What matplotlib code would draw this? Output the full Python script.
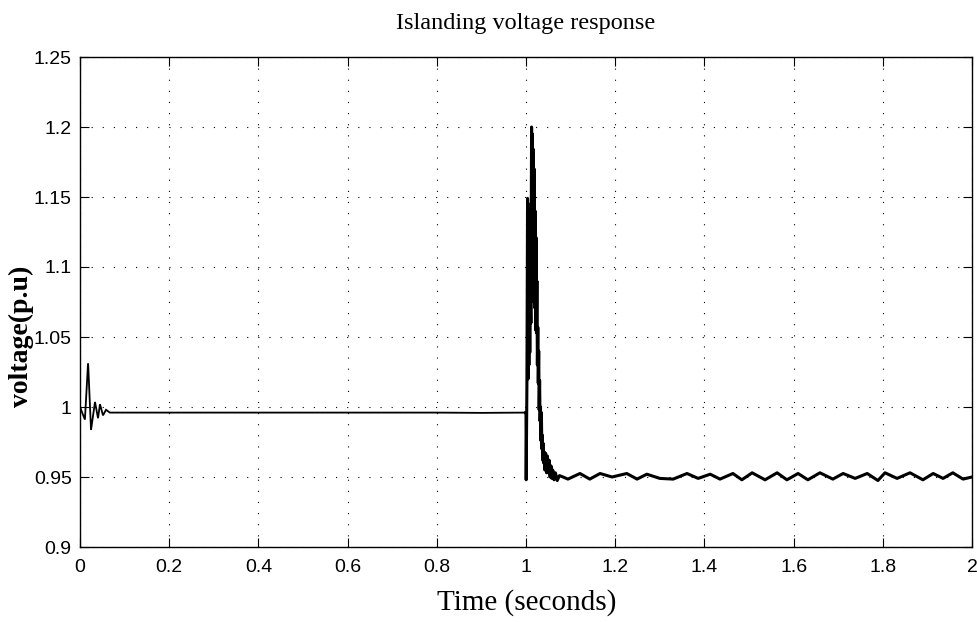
import matplotlib
matplotlib.use("Agg")
import matplotlib.pyplot as plt

# Simulated PCC voltage (p.u.) during islanding, sampled from the recorded waveform
# Start-up transient and steady grid-connected operation
t_grid = [0.0, 0.011, 0.018, 0.0185, 0.0247, 0.0336, 0.0404, 0.0448, 0.0516,
          0.0583, 0.067, 0.2, 0.4, 0.6, 0.8, 0.9, 0.9995]
v_grid = [1.000, 0.991, 1.031, 1.029, 0.9836, 1.0036, 0.992, 1.002, 0.994,
          0.998, 0.996, 0.996, 0.996, 0.996, 0.996, 0.9958, 0.996]

# Islanding event at t = 1 s and settling to the new operating point
t_island = [0.9995, 1.0000, 1.0004, 1.0020, 1.0035, 1.0045, 1.0055, 1.0065,
            1.0075, 1.0085, 1.0095, 1.0110, 1.0125, 1.0135, 1.0145, 1.0155,
            1.0165, 1.0175, 1.0185, 1.0195, 1.0205, 1.0215, 1.0225, 1.0235,
            1.0245, 1.0255, 1.0265, 1.0275, 1.0285, 1.0295, 1.0305, 1.0315,
            1.0325, 1.0335, 1.0345, 1.0355, 1.0365, 1.0375, 1.0385, 1.0395,
            1.0405, 1.042, 1.044, 1.046, 1.048, 1.050, 1.052, 1.054, 1.056,
            1.058, 1.060, 1.063, 1.066, 1.070, 1.075, 1.083, 1.094, 1.121,
            1.143, 1.166, 1.193, 1.226, 1.249, 1.271, 1.300, 1.330, 1.361,
            1.386, 1.413, 1.435, 1.464, 1.484, 1.507, 1.536, 1.563, 1.585,
            1.610, 1.632, 1.659, 1.688, 1.711, 1.738, 1.765, 1.789, 1.805,
            1.832, 1.861, 1.890, 1.913, 1.935, 1.957, 1.980, 2.000]
v_island = [0.996, 0.996, 0.948, 1.014, 1.149, 1.020, 1.145, 1.030,
            1.105, 1.039, 1.100, 1.060, 1.200, 1.100, 1.195, 1.090,
            1.184, 1.075, 1.170, 1.071, 1.140, 1.055, 1.121, 1.053,
            1.090, 1.030, 1.057, 1.017, 1.040, 0.998, 1.019, 0.990,
            1.000, 0.976, 0.996, 0.970, 0.980, 0.962, 0.974, 0.960,
            0.968, 0.955, 0.967, 0.953, 0.965, 0.953, 0.962, 0.950, 0.958,
            0.949, 0.955, 0.948, 0.953, 0.9475, 0.951, 0.950, 0.9485, 0.9525,
            0.9485, 0.9525, 0.950, 0.9525, 0.9485, 0.952, 0.949, 0.9485, 0.9525,
            0.949, 0.952, 0.9485, 0.9525, 0.948, 0.953, 0.948, 0.953, 0.948,
            0.9525, 0.948, 0.953, 0.9485, 0.9525, 0.949, 0.9525, 0.9475, 0.953,
            0.949, 0.953, 0.948, 0.9525, 0.949, 0.953, 0.9485, 0.950]

x_ticks = [0, 0.2, 0.4, 0.6, 0.8, 1, 1.2, 1.4, 1.6, 1.8, 2]
x_tick_labels = ["0", "0.2", "0.4", "0.6", "0.8", "1", "1.2", "1.4", "1.6", "1.8", "2"]
y_ticks = [0.9, 0.95, 1, 1.05, 1.1, 1.15, 1.2, 1.25]
y_tick_labels = ["0.9", "0.95", "1", "1.05", "1.1", "1.15", "1.2", "1.25"]

tick_font = ["Liberation Sans", "DejaVu Sans"]
serif_font = ["Liberation Serif", "DejaVu Serif"]

fig = plt.figure(figsize=(9.77, 6.22), dpi=100)
ax = fig.add_axes([80 / 977, 1 - 547 / 622, 892 / 977, 490 / 622])

ax.plot(t_grid, v_grid, color="black", lw=1.3, solid_joinstyle="miter")
ax.plot(t_island, v_island, color="black", lw=2.2, solid_joinstyle="round")

ax.set_xlim(0, 2)
ax.set_ylim(0.9, 1.25)
ax.set_xticks(x_ticks)
ax.set_xticklabels(x_tick_labels, family=tick_font, fontsize=14)
ax.set_yticks(y_ticks)
ax.set_yticklabels(y_tick_labels, family=tick_font, fontsize=14)

ax.grid(True, color="black", lw=0.8, ls=(0, (1, 9)))
ax.tick_params(direction="in", length=6.5, width=0.8, top=True, right=True,
               colors="black")
ax.tick_params(axis="x", pad=9)
ax.tick_params(axis="y", pad=6)
for sp in ax.spines.values():
    sp.set_linewidth(1.0)

fig.text(526 / 977, 1 - 24 / 622, "Islanding voltage response", family=serif_font,
         fontsize=17.5, ha="center", va="center")
fig.text(527 / 977, 1 - 603 / 622, "Time (seconds)", family=serif_font,
         fontsize=21, ha="center", va="center")
fig.text(21 / 977, 1 - 336 / 622, "voltage(p.u)", family=serif_font,
         fontsize=20, fontweight="bold", rotation=90, ha="center", va="center")

fig.savefig("out.png", dpi=100, facecolor="white")
